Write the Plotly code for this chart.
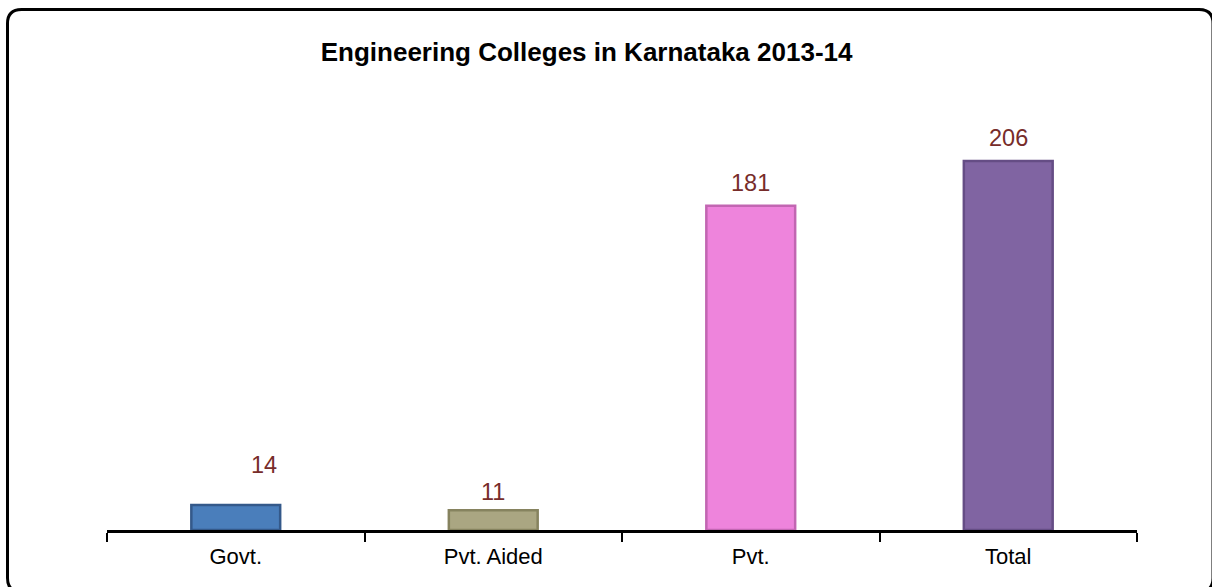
import plotly.graph_objects as go

# Engineering colleges in Karnataka, 2013-14
categories = ["Govt.", "Pvt. Aided", "Pvt.", "Total"]
colleges = [14, 11, 181, 206]

bar_colors = ["#4a7ebb", "#aaa682", "#ee84dc", "#8064a2"]
edge_colors = ["#34598a", "#86835f", "#c266b2", "#654d85"]

W, H = 1212, 587
L, R, T, B = 107, 75, 136, 57
pw, ph = W - L - R, H - T - B


def px_to_paper(x, y):
    return (x - L) / pw, (H - B - y) / ph


fig = go.Figure(
    go.Bar(
        x=categories,
        y=colleges,
        marker=dict(color=bar_colors, line=dict(color=edge_colors, width=2.5)),
        width=0.345,
        hoverinfo="x+y",
    )
)

# value labels above each bar
label_dx = [28, 0, 0, 0]
label_dy = [40, 18, 23, 23]
for cat, val, dx, dy in zip(categories, colleges, label_dx, label_dy):
    fig.add_annotation(
        x=cat, y=val, text=str(val), showarrow=False,
        xshift=dx, yshift=dy, yanchor="middle",
        font=dict(family="Liberation Sans, Arial", size=23.5, color="#772c2a"),
    )

# rounded outer frame
x0, y0 = px_to_paper(7.5, 9.5)
x1, y1 = px_to_paper(1213, 592)
rx, ry = 14 / pw, 14 / ph
frame = (
    f"M {x0 + rx} {y0} L {x1 - rx} {y0} Q {x1} {y0} {x1} {y0 - ry} "
    f"L {x1} {y1 + ry} Q {x1} {y1} {x1 - rx} {y1} "
    f"L {x0 + rx} {y1} Q {x0} {y1} {x0} {y1 + ry} "
    f"L {x0} {y0 - ry} Q {x0} {y0} {x0 + rx} {y0} Z"
)
fig.add_shape(type="path", path=frame, xref="paper", yref="paper",
              line=dict(color="black", width=3), layer="above")

fig.update_layout(
    width=W, height=H,
    margin=dict(l=L, r=R, t=T, b=B),
    paper_bgcolor="white", plot_bgcolor="white",
    showlegend=False,
    title=dict(
        text="<b>Engineering Colleges in Karnataka 2013-14</b>",
        x=0.484, xanchor="center", y=1 - 52 / H, yanchor="middle",
        font=dict(family="Liberation Sans, Arial", size=26, color="black"),
    ),
    font=dict(family="Liberation Sans, Arial", color="black"),
)
fig.update_xaxes(
    type="category", tickson="boundaries", ticks="outside", ticklen=9,
    tickwidth=2, tickcolor="black", showline=True, linecolor="black",
    linewidth=3, showgrid=False, tickfont=dict(size=22, color="black"),
    ticklabelstandoff=5,
)
fig.update_yaxes(range=[0, 220], visible=False, showgrid=False)

fig.write_html("out.html", config={"displayModeBar": False})
